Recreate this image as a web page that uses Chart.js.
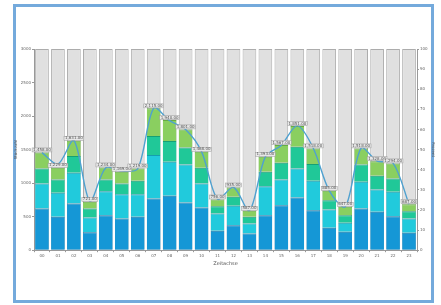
<!DOCTYPE html>
<html>
<head>
<meta charset="utf-8">
<script src="https://cdn.jsdelivr.net/npm/chart.js@4"></script>
<style>
  html, body { margin: 0; padding: 0; background: #fff; }
  #wrap { position: relative; width: 441px; height: 305px; }
  #frame { position: absolute; left: 13px; top: 4px; width: 415px; height: 293px; border: 3px solid #74aadc; }
  canvas { position: absolute; left: 0; top: 0; }
</style>
</head>
<body>
<div id="wrap">
  <div id="frame"></div>
  <canvas id="chart" width="441" height="305"></canvas>
</div>
<script>
const hours = ['00','01','02','03','04','05','06','07','08','09','10','11',
               '12','13','14','15','16','17','18','19','20','21','22','23'];

// stacked segments, bottom to top
const blueVals  = [622, 497, 697, 269, 522, 473, 497, 771, 811, 711, 637, 289, 373, 249, 522, 672, 786, 597, 333, 274, 622, 572, 507, 259];
const cyanVals  = [373, 358, 457, 219, 358, 363, 339, 647, 507, 568, 358, 258, 289, 149, 433, 383, 433, 438, 274, 134, 398, 333, 363, 214];
const tealVals  = [224, 200, 249, 134, 175, 159, 199, 283, 309, 253, 234, 110, 134,  99, 214, 248, 323, 249, 139, 114, 259, 204, 200, 109];
const greenVals = [239, 174, 228,  99, 179, 174, 184, 414, 313, 269, 239,  99, 139,  90, 224, 264, 309, 234, 139, 125, 239, 219, 224, 105];

// line on the right axis
const lineVals = [48.5, 42.8, 54.5, 24.4, 41.0, 39.3, 40.5, 70.6, 64.4, 60.0, 49.0, 25.4,
                  31.3, 19.7, 46.5, 52.2, 61.9, 50.7, 29.6, 21.6, 50.7, 44.3, 43.3, 22.9];

const capacityVals = hours.map(() => 3000);

const tinyFont = { size: 4, family: 'DejaVu Sans' };

function segment(label, data, color, edge) {
    return {
        type: 'bar', label: label, data: data, stack: 'main', grouped: false, order: 2,
        backgroundColor: color, borderColor: edge, borderWidth: { top: 1 }, borderSkipped: false,
        barPercentage: 0.86, categoryPercentage: 1, yAxisID: 'y'
    };
}

// small total labels above each stack
const totalLabels = {
    id: 'totalLabels',
    afterDatasetsDraw(chart) {
        const ctx = chart.ctx;
        const meta = chart.getDatasetMeta(5); // top segment
        ctx.save();
        ctx.font = '4px "DejaVu Sans"';
        ctx.textAlign = 'center';
        ctx.textBaseline = 'middle';
        meta.data.forEach((bar, i) => {
            const total = blueVals[i] + cyanVals[i] + tealVals[i] + greenVals[i];
            const txt = total.toLocaleString('en-US', { minimumFractionDigits: 2 });
            const w = ctx.measureText(txt).width + 2;
            ctx.fillStyle = 'rgba(232,232,232,0.95)';
            ctx.fillRect(bar.x - w / 2, bar.y - 4.5, w, 4);
            ctx.strokeStyle = '#9a9a9a';
            ctx.lineWidth = 0.5;
            ctx.strokeRect(bar.x - w / 2, bar.y - 4.5, w, 4);
            ctx.fillStyle = '#555';
            ctx.fillText(txt, bar.x, bar.y - 2.5);
        });
        ctx.restore();
    }
};

new Chart(document.getElementById('chart'), {
    data: {
        labels: hours,
        datasets: [
            {
                type: 'line', label: 'Anteil', data: lineVals, yAxisID: 'y1', order: 0,
                borderColor: '#4fa1d0', borderWidth: 1.4, pointRadius: 0, tension: 0.3, fill: false
            },
            {
                type: 'bar', label: 'Kapazität', data: capacityVals, stack: 'bg', grouped: false, order: 10,
                backgroundColor: '#e0e0e0', borderColor: '#acacac', borderWidth: 1, borderSkipped: false,
                barPercentage: 0.86, categoryPercentage: 1, yAxisID: 'y'
            },
            segment('A', blueVals, '#1597d6', '#0f7bb0'),
            segment('B', cyanVals, '#21cadc', '#149fb0'),
            segment('C', tealVals, '#20c898', '#15a076'),
            segment('D', greenVals, '#8acf60', '#66ad44')
        ]
    },
    options: {
        responsive: false,
        animation: false,
        layout: { padding: { left: 14, right: 6, top: 49, bottom: 36 } },
        plugins: { legend: { display: false }, tooltip: { enabled: false } },
        scales: {
            x: {
                stacked: true,
                grid: { drawOnChartArea: false, tickLength: 2, color: '#999' },
                border: { color: '#999' },
                ticks: { font: tinyFont, color: '#666', padding: 1, maxRotation: 0 },
                title: { display: true, text: 'Zeitachse', font: { size: 5, family: 'DejaVu Sans' }, color: '#555', padding: 2 }
            },
            y: {
                position: 'left', stacked: true, min: 0, max: 3000,
                afterFit(scale) { scale.width = 20; },
                grid: { drawOnChartArea: false, tickLength: 2, color: '#999' },
                border: { color: '#999' },
                ticks: { stepSize: 500, font: tinyFont, color: '#666', padding: 1, callback: v => String(v) },
                title: { display: true, text: 'Stückzahl', font: { size: 4, family: 'DejaVu Sans' }, color: '#555', padding: 0 }
            },
            y1: {
                position: 'right', min: 0, max: 100,
                afterFit(scale) { scale.width = 18; },
                grid: { drawOnChartArea: false, tickLength: 2, color: '#999' },
                border: { color: '#999' },
                ticks: { stepSize: 10, font: tinyFont, color: '#666', padding: 1 },
                title: { display: true, text: 'Prozent', font: { size: 4, family: 'DejaVu Sans' }, color: '#555', padding: 0 }
            }
        }
    },
    plugins: [totalLabels]
});
</script>
</body>
</html>
